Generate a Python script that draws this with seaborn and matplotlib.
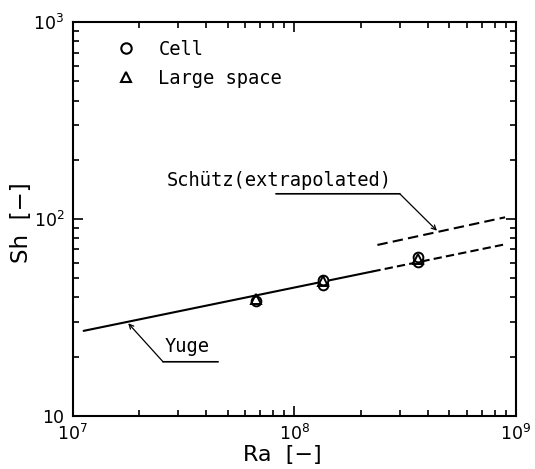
import math
import matplotlib
matplotlib.use("Agg")
import matplotlib.pyplot as plt
from matplotlib.lines import Line2D
from matplotlib.ticker import LogLocator, FuncFormatter, NullFormatter
import seaborn as sns
import pandas as pd

# Yuge correlation (measured range, solid) and its extension (dashed)
yuge_ra = [1.12e7, 2.25e8]
yuge_sh = [27.0, 54.1]
yuge_ext_ra = [2.25e8, 9.0e8]
yuge_ext_sh = [54.1, 74.5]

# Schuetz correlation, extrapolated
schutz_ra = [2.37e8, 8.93e8]
schutz_sh = [73.8, 102.0]

# Measurements
cell_ra = [6.7e7, 1.34e8, 1.34e8, 3.61e8, 3.61e8]
cell_sh = [38.2, 46.0, 49.0, 60.5, 64.0]
large_ra = [6.7e7, 1.34e8, 3.61e8]
large_sh = [39.0, 48.5, 62.5]

legend_labels = ["Cell", "Large space"]

sns.set_style("ticks")
plt.rcParams["font.family"] = ["DejaVu Sans"]
plt.rcParams["mathtext.default"] = "regular"
plt.rcParams["text.color"] = "black"
plt.rcParams["axes.labelcolor"] = "black"

LETTER = ["DejaVu Sans Mono", "DejaVu Sans"]

fig = plt.figure(figsize=(5.35, 4.69), dpi=100)
ax = fig.add_axes([0.1359, 0.1136, 0.8286, 0.8389])
ax.set_xscale("log")
ax.set_yscale("log")

lw = 1.5
sns.lineplot(x=yuge_ra, y=yuge_sh, ax=ax, color="black", lw=lw, estimator=None)
sns.lineplot(x=yuge_ext_ra, y=yuge_ext_sh, ax=ax, color="black", lw=lw,
             estimator=None, linestyle=(0, (4, 2)))
sns.lineplot(x=schutz_ra, y=schutz_sh, ax=ax, color="black", lw=lw,
             estimator=None, linestyle=(0, (5, 2.5)))

cell = pd.DataFrame({"Ra": cell_ra, "Sh": cell_sh})
large = pd.DataFrame({"Ra": large_ra, "Sh": large_sh})
sns.lineplot(data=cell, x="Ra", y="Sh", ax=ax, estimator=None, sort=False,
             linestyle="", marker="o", ms=7, mfc="white", mec="black",
             mew=1.4, color="black")
sns.lineplot(data=large, x="Ra", y="Sh", ax=ax, estimator=None, sort=False,
             linestyle="", marker="^", ms=6.5, mfc="none", mec="black",
             mew=1.4, color="black")

ax.set_xlim(1e7, 1e9)
ax.set_ylim(10, 1e3)

# ticks: inward on all four sides
ax.xaxis.set_major_locator(LogLocator(base=10, numticks=10))
ax.yaxis.set_major_locator(LogLocator(base=10, numticks=10))
ax.xaxis.set_minor_locator(LogLocator(base=10, subs=range(2, 10), numticks=20))
ax.yaxis.set_minor_locator(LogLocator(base=10, subs=range(2, 10), numticks=20))
ax.xaxis.set_minor_formatter(NullFormatter())
ax.yaxis.set_minor_formatter(NullFormatter())


def pow_label(v, pos):
    e = int(round(math.log10(v)))
    return "10" if e == 1 else r"$10^{%d}$" % e


ax.xaxis.set_major_formatter(FuncFormatter(pow_label))
ax.yaxis.set_major_formatter(FuncFormatter(pow_label))
ax.tick_params(which="both", direction="in", top=True, right=True,
               width=1.2, labelsize=12.5, colors="black")
ax.tick_params(which="major", length=7, pad=6)
ax.tick_params(which="minor", length=4.5)
for s in ax.spines.values():
    s.set_linewidth(1.5)
    s.set_color("black")

ax.set_xlabel("Ra  [−]", fontsize=16)
ax.set_ylabel("Sh  [−]", fontsize=16.5)
ax.xaxis.set_label_coords(0.472, -0.074)
ax.yaxis.set_label_coords(-0.09, 0.49)

# annotations with underlines and leader arrows
afs = 13.5
ax.annotate("", xy=(1.78e7, 29.5), xytext=(2.556e7, 18.8),
            arrowprops=dict(arrowstyle="->", lw=0.9, color="black",
                            shrinkA=0, shrinkB=0, mutation_scale=8))
ax.annotate("", xy=(4.53e7, 18.8), xytext=(2.556e7, 18.8),
            arrowprops=dict(arrowstyle="-", lw=1.2, color="black",
                            shrinkA=0, shrinkB=0))
ax.text(2.61e7, 21.1, "Yuge", fontsize=afs, family=LETTER,
        ha="left", va="baseline")

ax.annotate("", xy=(4.40e8, 87.2), xytext=(2.99e8, 134.3),
            arrowprops=dict(arrowstyle="->", lw=0.9, color="black",
                            shrinkA=0, shrinkB=0, mutation_scale=8))
ax.annotate("", xy=(8.26e7, 134.3), xytext=(2.99e8, 134.3),
            arrowprops=dict(arrowstyle="-", lw=1.2, color="black",
                            shrinkA=0, shrinkB=0))
ax.text(2.67e7, 148, "Schütz(extrapolated)", fontsize=afs, family=LETTER,
        ha="left", va="baseline")

handles = [
    Line2D([], [], linestyle="", marker="o", ms=7.5, mfc="none",
           mec="black", mew=1.5),
    Line2D([], [], linestyle="", marker="^", ms=7.5, mfc="none",
           mec="black", mew=1.5),
]
ax.legend(handles, legend_labels, loc="upper left",
          bbox_to_anchor=(0.098, 0.956), frameon=False,
          prop={"family": LETTER, "size": 13.5},
          handlelength=1.0, handletextpad=1.256, labelspacing=0.55,
          borderpad=0, borderaxespad=0)

fig.savefig("out.png", dpi=100)
